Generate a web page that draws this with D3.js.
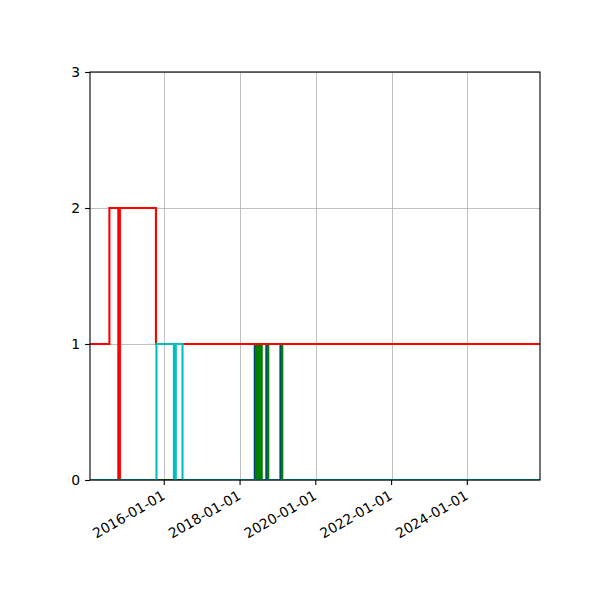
<!DOCTYPE html>
<html><head><meta charset="utf-8">
<script src="https://cdn.jsdelivr.net/npm/d3@7"></script>
<style>body{margin:0;background:#fff}svg{display:block}text{font-family:"DejaVu Sans",sans-serif}</style>
</head><body><svg id="c" width="600" height="600"></svg>
<script>
// ---- data (step "post": each value holds until the next date) ----
const endDate = "2026-06-01";
const blueDates  = ["2013-12-01","2018-05-23","2018-06-01","2018-09-12","2018-09-20","2019-01-26","2019-02-03"];
const blueValues = [0,1,0,1,0,1,0];
const greenDates  = ["2013-12-01","2018-05-30","2018-06-03","2018-06-07","2018-06-11","2018-06-15","2018-06-19","2018-06-23","2018-06-27","2018-07-01","2018-07-05","2018-07-09","2018-07-13","2018-07-17","2018-07-21","2018-07-25","2018-07-29","2018-08-05","2018-09-22","2018-09-30","2019-02-04","2019-02-12"];
const greenValues = [0,1,0,1,0,1,0,1,0,1,0,1,0,1,0,1,0,0,1,0,1,0];
const redDates  = ["2013-12-01","2014-07-21","2014-10-15","2014-10-30","2015-10-13"];
const redValues = [1,2,0,2,1];
const cyanDates  = ["2013-12-01","2015-10-18","2016-04-03","2016-04-21","2016-06-25"];
const cyanValues = [0,1,0,1,0];
const xTickLabels = ["2016-01-01","2018-01-01","2020-01-01","2022-01-01","2024-01-01"];
const yTickValues = [0,1,2,3];
const xDomain = ["2014-01-15","2025-12-02"];

const parse = d3.timeParse("%Y-%m-%d");
const L = 90, R = 540, T = 72, B = 480;
const svg = d3.select("#c");
const x = d3.scaleTime().domain(xDomain.map(parse)).range([L, R]);
const y = d3.scaleLinear().domain([0, 3]).range([B, T]);

svg.append("defs").append("clipPath").attr("id","clip")
  .append("rect").attr("x",L).attr("y",T).attr("width",R-L).attr("height",B-T);

// grid
const gx = svg.append("g");
xTickLabels.forEach(t => {
  const px = Math.round(x(parse(t))) + 0.5;
  gx.append("line").attr("x1",px).attr("x2",px).attr("y1",T).attr("y2",B)
    .attr("stroke","#b0b0b0").attr("stroke-width",0.8);
});
yTickValues.forEach(v => {
  const py = Math.round(y(v)) + 0.5;
  gx.append("line").attr("x1",L).attr("x2",R).attr("y1",py).attr("y2",py)
    .attr("stroke","#b0b0b0").attr("stroke-width",0.8);
});

// series
const line = d3.line().x(d => x(d[0])).y(d => y(d[1])).curve(d3.curveStepAfter);
function series(dates, values, color) {
  const pts = dates.map((d,i) => [parse(d), values[i]]);
  pts.push([parse(endDate), values[values.length-1]]);
  svg.append("path").datum(pts).attr("d", line).attr("fill","none")
    .attr("stroke", color).attr("stroke-width", 2.1).attr("stroke-linejoin","miter")
    .attr("clip-path","url(#clip)");
}
series(blueDates, blueValues, "#0000ff");
series(greenDates, greenValues, "#008000");
series(redDates, redValues, "#ff0000");
series(cyanDates, cyanValues, "#00bfbf");

// frame
svg.append("rect").attr("x",L).attr("y",T).attr("width",R-L).attr("height",B-T)
  .attr("fill","none").attr("stroke","#000").attr("stroke-width",1.1);

// y axis
const yAxis = d3.axisLeft(y).tickValues(yTickValues).tickFormat(d3.format("d")).tickSizeInner(4.9).tickSizeOuter(0).tickPadding(4.9);
const ya = svg.append("g").attr("transform",`translate(${L},0)`).call(yAxis);
ya.select(".domain").remove();
ya.selectAll("line").attr("stroke","#000").attr("stroke-width",1.1);
ya.selectAll("text").attr("font-size","13.9px").attr("font-family","DejaVu Sans").attr("fill","#000");

// x axis ticks + rotated labels
const xa = svg.append("g");
xTickLabels.forEach(t => {
  const px = x(parse(t));
  xa.append("line").attr("x1",px).attr("x2",px).attr("y1",B).attr("y2",B+4.9)
    .attr("stroke","#000").attr("stroke-width",1.1);
  xa.append("text").text(t)
    .attr("transform",`translate(${px-3.5},${B+9}) rotate(-30)`)
    .attr("text-anchor","end").attr("dy","0.78em")
    .attr("font-size","13.9px").attr("fill","#000");
});
</script></body></html>
